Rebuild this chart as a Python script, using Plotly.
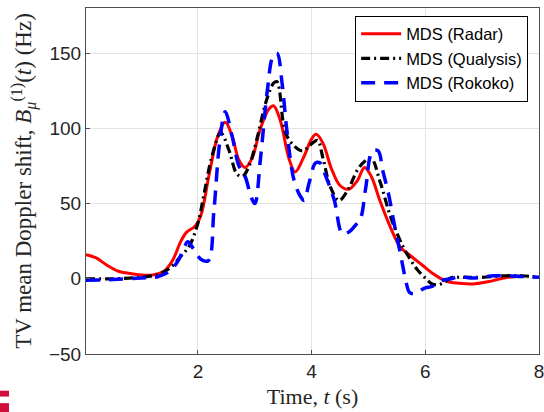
import plotly.graph_objects as go

# Radar
radar_t = [0.03, 0.2, 0.4, 0.6, 0.8, 1.0, 1.2, 1.4, 1.55, 1.7, 1.8, 1.95, 2.05, 2.2, 2.35, 2.48, 2.6, 2.72, 2.83, 2.95,
           3.1, 3.25, 3.33, 3.45, 3.6, 3.71, 3.85, 4.0, 4.08, 4.2, 4.35, 4.5, 4.65, 4.8, 4.93, 5.05, 5.2, 5.4, 5.56,
           5.75, 5.95, 6.15, 6.36, 6.6, 6.83, 7.1, 7.41, 7.68]
radar_y = [16, 14, 9, 5, 3.5, 2.5, 2.5, 5, 12, 25, 31, 35, 42, 70, 95, 104, 95, 79, 74, 80,
           100, 113, 115, 105, 80, 71, 80, 93, 96, 90, 73, 62, 59.5, 65, 74, 68, 52, 33, 21,
           15, 9, 3, -1.5, -3, -3.5, -2, 0.7, 1.8]

# Qualysis
qual_t = [0.03, 0.5, 1.0, 1.3, 1.5, 1.7, 1.85, 2.0, 2.1, 2.25, 2.4, 2.55, 2.68, 2.78, 2.9, 3.05, 3.2, 3.33, 3.39, 3.54,
          3.7, 3.84, 3.95, 4.1, 4.2, 4.33, 4.48, 4.65, 4.8, 4.93, 5.05, 5.2, 5.4, 5.6, 5.75, 5.86, 6.0, 6.1, 6.21,
          6.35, 6.44, 6.7, 7.0, 7.4, 7.7, 8.0]
qual_y = [0, 0, 1, 3, 7, 15, 22, 37, 55, 82, 97, 85, 70, 68, 75, 95, 118, 130, 131, 97,
          88, 85, 88, 92, 80, 61, 52, 60, 72, 78, 80, 65, 40, 22, 12, 6, 0.5, -3, -4,
          -2, 0.5, 1, 1, 2, 2, 1]

# Rokoko
rok_t = [0.03, 0.5, 1.0, 1.3, 1.5, 1.65, 1.75, 1.82, 1.92, 2.05, 2.18, 2.28, 2.38, 2.48, 2.6, 2.72, 2.83, 2.93, 3.0,
         3.1, 3.22, 3.32, 3.39, 3.48, 3.56, 3.69, 3.8, 3.87, 3.95, 4.07, 4.15, 4.25, 4.4, 4.54, 4.65, 4.78, 4.86,
         4.95, 5.07, 5.17, 5.25, 5.35, 5.45, 5.56, 5.65, 5.72, 5.8, 5.9, 6.0, 6.12, 6.3, 6.45, 6.6, 6.8, 7.0,
         7.2, 7.4, 7.7, 8.0]
rok_y = [-1, -0.5, 0.5, 1.5, 5, 12, 20, 24.6, 20, 13, 12, 45, 90, 111, 95, 75, 68, 55, 50,
         80, 125, 148, 150, 130, 100, 65.5, 55, 52, 63, 77, 77, 68, 52, 30, 31, 36, 40,
         60, 85, 85, 72, 57, 37, 17, 0, -9, -10, -8, -6, -5, -1, 0, 1.5, 0.5, 1,
         2, 2, 1.5, 1]

x_ticks = [2, 4, 6, 8]
y_ticks = [-50, 0, 50, 100, 150]

fig = go.Figure()
fig.add_trace(go.Scatter(x=radar_t, y=radar_y, mode="lines", name="MDS (Radar)",
                         line=dict(color="#ff0000", width=3, shape="spline", smoothing=1.0)))
fig.add_trace(go.Scatter(x=qual_t, y=qual_y, mode="lines", name="MDS (Qualysis)",
                         line=dict(color="#000000", width=3.2, dash="9px,4px,2px,4px", shape="spline", smoothing=1.0)))
fig.add_trace(go.Scatter(x=rok_t, y=rok_y, mode="lines", name="MDS (Rokoko)",
                         line=dict(color="#0000ff", width=3.5, dash="14px,9px", shape="spline", smoothing=1.0)))

axis_common = dict(showline=True, mirror=True, linecolor="#4d4d4d", linewidth=1,
                   ticks="inside", ticklen=4, tickcolor="#4d4d4d", automargin=False,
                   showgrid=True, gridcolor="#e3e3e3", gridwidth=1, zeroline=False,
                   ticklabeloverflow="allow",
                   tickfont=dict(family="Liberation Sans, Arial", size=19, color="#262626"))

fig.update_layout(
    width=544, height=412,
    margin=dict(l=86, r=5, t=8, b=58),
    paper_bgcolor="white", plot_bgcolor="white",
    xaxis=dict(range=[0.03, 8], tickvals=x_ticks,
               title=dict(text="Time, <i>t</i> (s)", standoff=7,
                          font=dict(family="Liberation Serif, Times New Roman", size=22, color="#262626")),
               **axis_common),
    yaxis=dict(range=[-50, 180], tickvals=y_ticks,
               title=dict(text="TV mean Doppler shift, <i>B</i><sub><i>μ</i></sub><sup>(1)</sup>(<i>t</i>) (Hz)",
                          standoff=10,
                          font=dict(family="Liberation Serif, Times New Roman", size=23, color="#262626")),
               **axis_common),
    legend=dict(x=0.976, y=0.978, xanchor="right", yanchor="top",
                bgcolor="white", bordercolor="#000000", borderwidth=1,
                font=dict(family="Liberation Sans, Arial", size=16.5, color="#000000"),
                itemwidth=40, tracegroupgap=0),
    showlegend=True,
    shapes=[
        dict(type="rect", xref="paper", yref="paper", x0=-0.19, x1=-0.17, y0=-0.123, y1=-0.106,
             fillcolor="#d0103a", line=dict(width=0)),
        dict(type="rect", xref="paper", yref="paper", x0=-0.19, x1=-0.17, y0=-0.168, y1=-0.142,
             fillcolor="#d0103a", line=dict(width=0)),
    ],
)

fig.write_html("out.html", config={"displayModeBar": False},
               post_script="document.body.style.margin='0';document.body.style.overflow='hidden';")
